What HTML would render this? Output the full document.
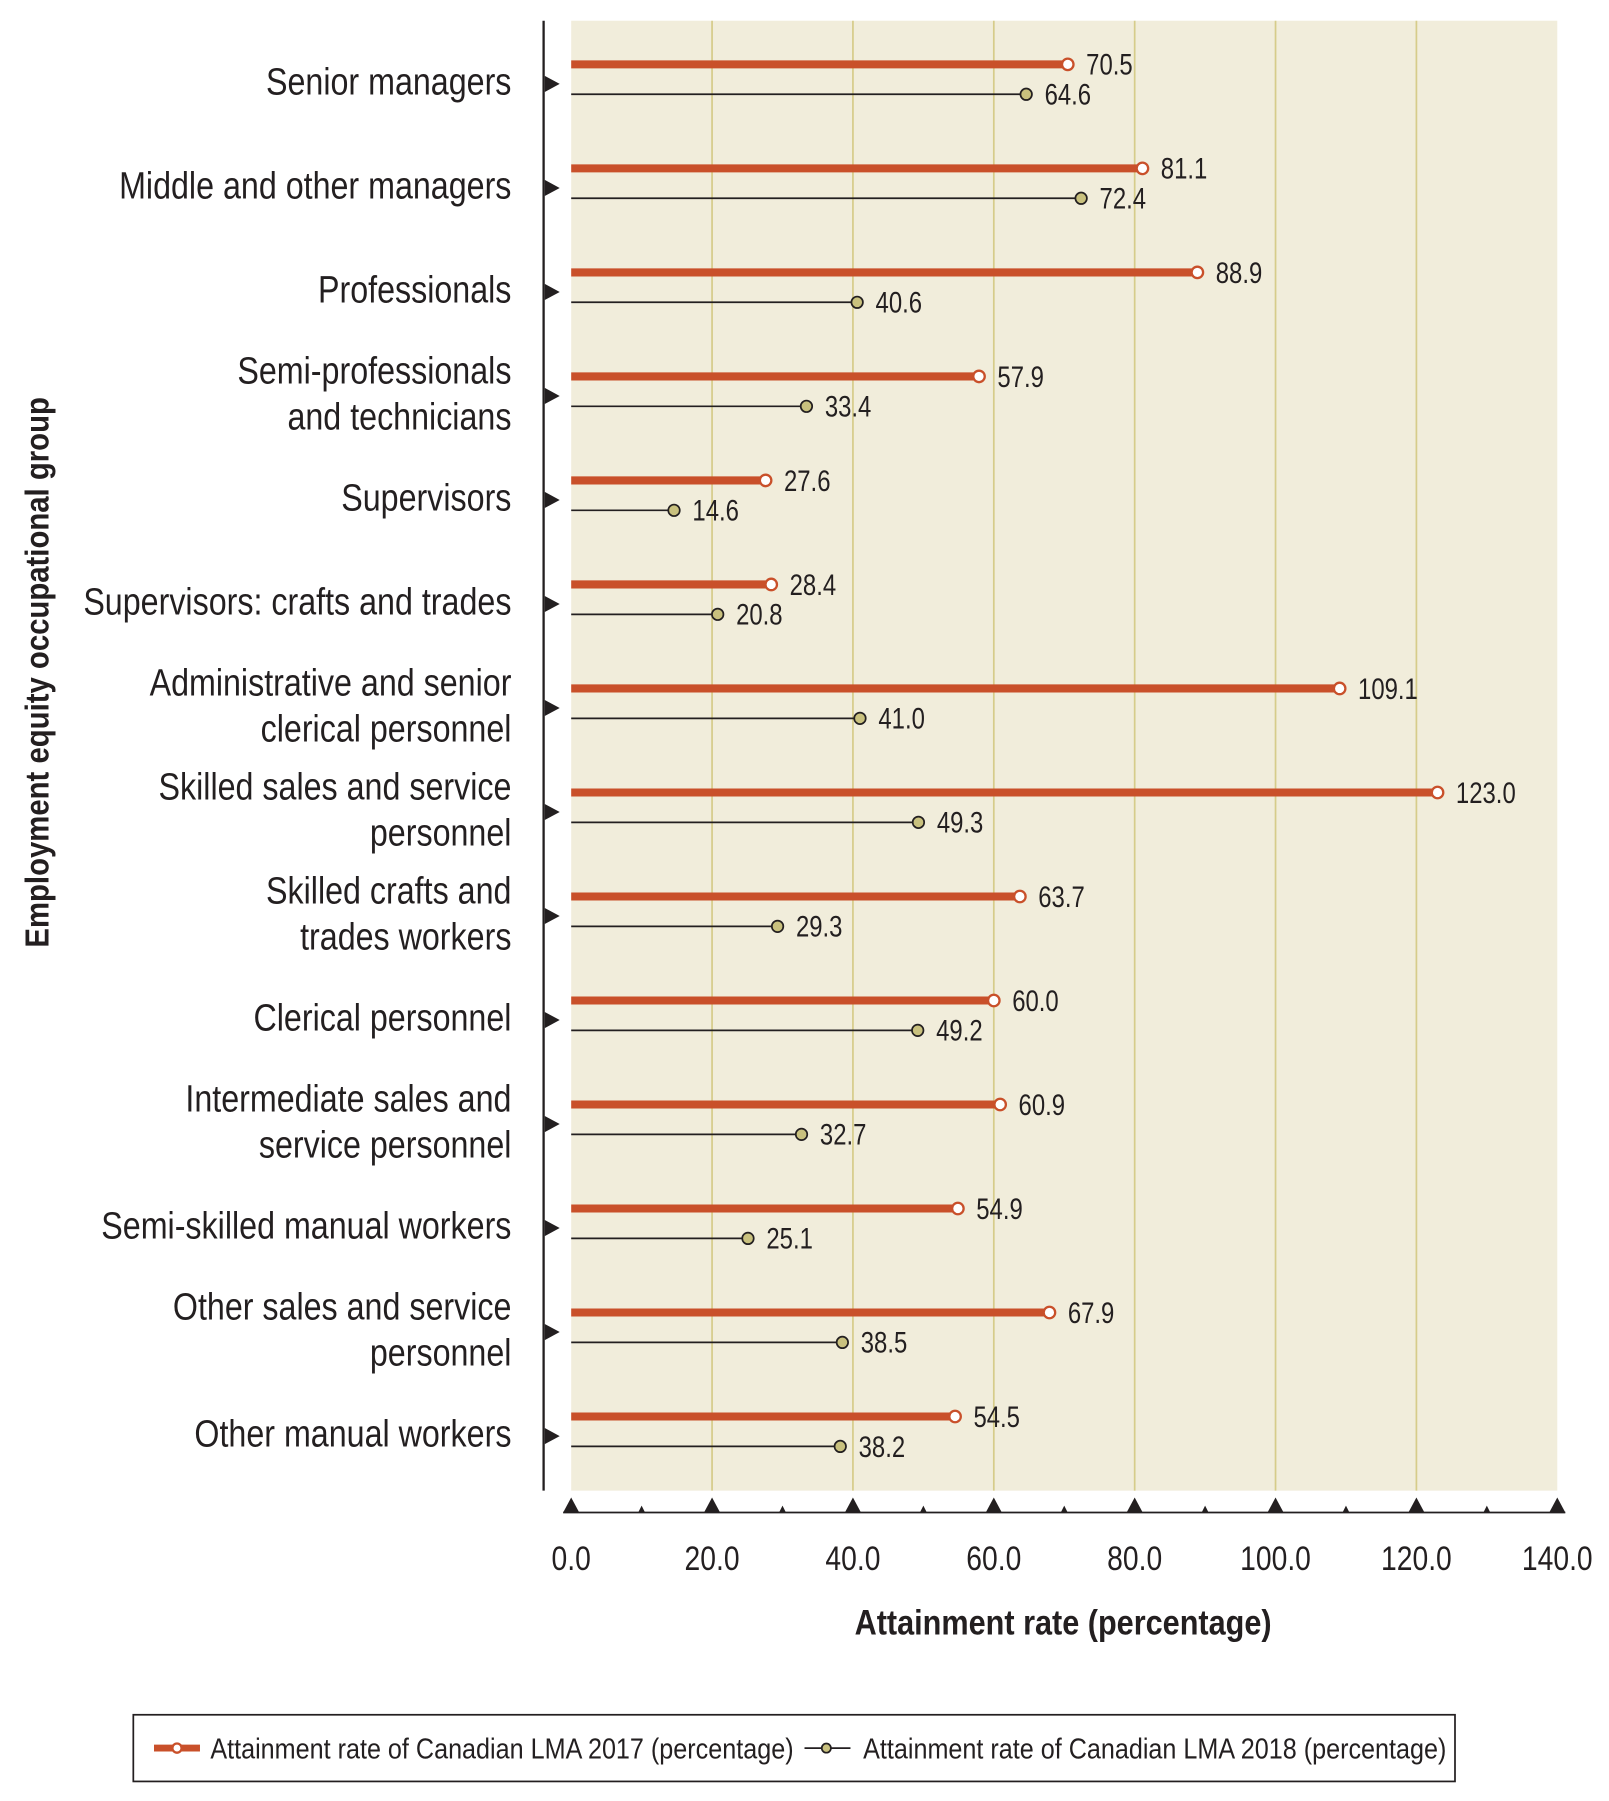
<!DOCTYPE html>
<html><head><meta charset="utf-8"><style>
html,body{margin:0;padding:0;background:#fff;}
svg{display:block;}
text{font-family:"Liberation Sans Narrow","Liberation Sans",sans-serif;fill:#231f20;}
</style></head><body>
<svg id="chart" width="1609" height="1801" viewBox="0 0 1400 1567" xmlns="http://www.w3.org/2000/svg">
<rect x="497" y="18" width="858" height="1279" fill="#f1eddb"/>
<g id="grid"></g>
<line x1="473" y1="18" x2="473" y2="1297" stroke="#231f20" stroke-width="2"/>
<g id="marks"></g>
<g id="xaxis"></g>
<g transform="translate(925,1422) scale(0.86,1)"><text x="0" y="0" text-anchor="middle" font-size="31" font-weight="bold">Attainment rate (percentage)</text></g>
<g transform="translate(42,585) rotate(-90) scale(0.88,1)"><text x="0" y="0" text-anchor="middle" font-size="29" font-weight="bold">Employment equity occupational group</text></g>
<g>
<rect x="116" y="1492" width="1150" height="58" fill="#fff" stroke="#231f20" stroke-width="1.5"/>
<line x1="134" y1="1521" x2="174" y2="1521" stroke="#c9502a" stroke-width="6"/>
<circle cx="154" cy="1521" r="4" fill="#fff" stroke="#c9502a" stroke-width="2"/>
<g transform="translate(183,1530) scale(0.876,1)"><text x="0" y="0" font-size="25">Attainment rate of Canadian LMA 2017 (percentage)</text></g>
<line x1="700" y1="1521" x2="740" y2="1521" stroke="#231f20" stroke-width="1.5"/>
<circle cx="719" cy="1521" r="4" fill="#c9c17e" stroke="#231f20" stroke-width="1.5"/>
<g transform="translate(751,1530) scale(0.876,1)"><text x="0" y="0" font-size="25">Attainment rate of Canadian LMA 2018 (percentage)</text></g>
</g>
</svg>
<script>
const categories = [["Senior managers"],["Middle and other managers"],["Professionals"],["Semi-professionals","and technicians"],["Supervisors"],["Supervisors: crafts and trades"],["Administrative and senior","clerical personnel"],["Skilled sales and service","personnel"],["Skilled crafts and","trades workers"],["Clerical personnel"],["Intermediate sales and","service personnel"],["Semi-skilled manual workers"],["Other sales and service","personnel"],["Other manual workers"]];
const values2017 = [70.5,81.1,88.9,57.9,27.6,28.4,109.1,123.0,63.7,60.0,60.9,54.9,67.9,54.5];
const values2018 = [64.6,72.4,40.6,33.4,14.6,20.8,41.0,49.3,29.3,49.2,32.7,25.1,38.5,38.2];
const xTicks = [0,20,40,60,80,100,120,140];
const minorTicks = [10,30,50,70,90,110,130];

const NS="http://www.w3.org/2000/svg";
const x = v => 497 + v*(858/140);
const yRow = i => 56 + i*90.5;
function mk(tag, attrs, parent, txt){const e=document.createElementNS(NS,tag);for(const k in attrs)e.setAttribute(k,attrs[k]);if(txt!==undefined)e.textContent=txt;parent.appendChild(e);return e;}
function ntext(parent, X, Y, sx, attrs, txt){const g=mk('g',{transform:`translate(${X},${Y}) scale(${sx},1)`},parent);attrs.x=0;attrs.y=0;return mk('text',attrs,g,txt);}
const grid=document.getElementById('grid'), marks=document.getElementById('marks'), xa=document.getElementById('xaxis');
xTicks.slice(1,-1).forEach(t=>{
  const l=mk('line',{x1:x(t),y1:18,x2:x(t),y2:1297,stroke:'#d6cc8a','stroke-width':1.5},grid);
  
  
});
mk('line',{x1:490,y1:1316,x2:1362,y2:1316,stroke:'#231f20','stroke-width':1.5},xa);
xTicks.forEach(t=>{
  const p=mk('polygon',{points:`${x(t)-7},1316 ${x(t)+7},1316 ${x(t)},1303`,fill:'#231f20'},xa);
  
  
  const tx=ntext(xa,x(t),1366,0.82,{'text-anchor':'middle','font-size':30},t.toFixed(1));
  
  
});
minorTicks.forEach(t=>{
  const p=mk('polygon',{points:`${x(t)-3},1316 ${x(t)+3},1316 ${x(t)},1310`,fill:'#231f20'},xa);
  
  
});
categories.forEach((lab,i)=>{
  const y=yRow(i);
  const c = y+15;
  lab.forEach((ln,k)=>{
    const yy = lab.length===1 ? c+11 : (k===0 ? c-9 : c+31);
    const t=ntext(marks,445,yy,0.85,{'text-anchor':'end','font-size':33},ln);
    
    
  });
  const ar=mk('polygon',{points:`474,${y+10} 487,${y+17} 474,${y+24}`,fill:'#231f20'},marks);
  
  
  const b=mk('line',{x1:497,y1:y,x2:x(values2017[i]),y2:y,stroke:'#c9502a','stroke-width':7},marks);
  
  
  const c1=mk('circle',{cx:x(values2017[i]),cy:y,r:5,fill:'#fff',stroke:'#c9502a','stroke-width':2},marks);
  
  
  const v1=ntext(marks,x(values2017[i])+16,y+9,0.8,{'font-size':26},values2017[i].toFixed(1));
  
  
  const y2=y+26;
  const l=mk('line',{x1:497,y1:y2,x2:x(values2018[i]),y2:y2,stroke:'#231f20','stroke-width':1.5},marks);
  
  
  const c2=mk('circle',{cx:x(values2018[i]),cy:y2,r:5,fill:'#c9c17e',stroke:'#231f20','stroke-width':1.5},marks);
  
  
  const v2=ntext(marks,x(values2018[i])+16,y2+9,0.8,{'font-size':26},values2018[i].toFixed(1));
  
  
});
</script>
</body></html>
